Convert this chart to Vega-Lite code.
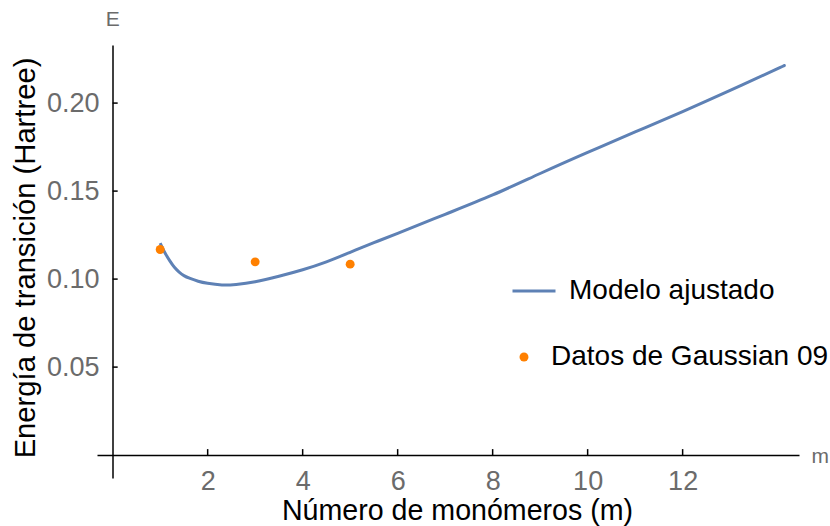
{
  "$schema": "https://vega.github.io/schema/vega-lite/v6.json",
  "width": 702,
  "height": 433,
  "autosize": {"type": "none"},
  "padding": {"left": 97, "top": 45, "right": 31, "bottom": 48},
  "background": "white",
  "config": {
    "view": {"stroke": null},
    "font": "Liberation Sans",
    "legend": {"padding": 0, "titleFontSize": 0, "labelLimit": 0}
  },
  "datasets": {
    "modelo": [
      {"m": 1.0, "E": 0.1205, "serie": "Modelo ajustado"},
      {"m": 1.1, "E": 0.1150, "serie": "Modelo ajustado"},
      {"m": 1.2, "E": 0.1105, "serie": "Modelo ajustado"},
      {"m": 1.3, "E": 0.1067, "serie": "Modelo ajustado"},
      {"m": 1.4, "E": 0.1040, "serie": "Modelo ajustado"},
      {"m": 1.5, "E": 0.1020, "serie": "Modelo ajustado"},
      {"m": 1.63, "E": 0.1004, "serie": "Modelo ajustado"},
      {"m": 1.8, "E": 0.0988, "serie": "Modelo ajustado"},
      {"m": 2.0, "E": 0.0976, "serie": "Modelo ajustado"},
      {"m": 2.3, "E": 0.0967, "serie": "Modelo ajustado"},
      {"m": 2.6, "E": 0.0970, "serie": "Modelo ajustado"},
      {"m": 3.0, "E": 0.0985, "serie": "Modelo ajustado"},
      {"m": 3.5, "E": 0.1016, "serie": "Modelo ajustado"},
      {"m": 4.0, "E": 0.1053, "serie": "Modelo ajustado"},
      {"m": 4.5, "E": 0.1098, "serie": "Modelo ajustado"},
      {"m": 5.0, "E": 0.1152, "serie": "Modelo ajustado"},
      {"m": 5.5, "E": 0.1207, "serie": "Modelo ajustado"},
      {"m": 6.0, "E": 0.1260, "serie": "Modelo ajustado"},
      {"m": 7.0, "E": 0.1368, "serie": "Modelo ajustado"},
      {"m": 8.0, "E": 0.1478, "serie": "Modelo ajustado"},
      {"m": 9.0, "E": 0.1600, "serie": "Modelo ajustado"},
      {"m": 10.0, "E": 0.1720, "serie": "Modelo ajustado"},
      {"m": 11.0, "E": 0.1836, "serie": "Modelo ajustado"},
      {"m": 12.0, "E": 0.1952, "serie": "Modelo ajustado"},
      {"m": 13.0, "E": 0.2072, "serie": "Modelo ajustado"},
      {"m": 14.0, "E": 0.2196, "serie": "Modelo ajustado"},
      {"m": 14.1, "E": 0.2208, "serie": "Modelo ajustado"}
    ],
    "datos": [
      {"m": 1, "E": 0.1168, "fuente": "Datos de Gaussian 09"},
      {"m": 3, "E": 0.1098, "fuente": "Datos de Gaussian 09"},
      {"m": 5, "E": 0.1085, "fuente": "Datos de Gaussian 09"}
    ],
    "marcasX": [{"m": 2}, {"m": 4}, {"m": 6}, {"m": 8}, {"m": 10}, {"m": 12}],
    "marcasY": [{"E": 0.05}, {"E": 0.1}, {"E": 0.15}, {"E": 0.2}],
    "etiquetas": [
      {"m": 0, "E": 0.247, "texto": "E"},
      {"m": 14.9, "E": -0.001, "texto": "m"}
    ]
  },
  "layer": [
    {
      "data": {"name": "modelo"},
      "mark": {"type": "line", "strokeWidth": 3, "interpolate": "natural"},
      "encoding": {
        "x": {
          "field": "m", "type": "quantitative",
          "scale": {"domain": [-0.33, 14.45], "nice": false, "zero": false},
          "axis": {
            "orient": "bottom",
            "title": "Número de monómeros (m)",
            "values": [2, 4, 6, 8, 10, 12],
            "offset": -23,
            "grid": false,
            "ticks": false,
            "domainColor": "black", "domainWidth": 1.5,
            "labelFontSize": 27, "labelColor": "#6b6b6b", "labelPadding": 13,
            "titleFontSize": 28.6, "titleColor": "black", "titleFontWeight": "normal",
            "titleX": 360, "titleY": 64, "titleBaseline": "alphabetic"
          }
        },
        "y": {
          "field": "E", "type": "quantitative",
          "scale": {"domain": [-0.013, 0.233], "nice": false, "zero": false},
          "axis": {
            "orient": "left",
            "title": "Energía de transición (Hartree)",
            "values": [0.05, 0.1, 0.15, 0.2],
            "format": ".2f",
            "offset": -15.5,
            "grid": false,
            "ticks": false,
            "domainColor": "black", "domainWidth": 1.5,
            "labelFontSize": 27, "labelColor": "#6b6b6b", "labelPadding": 13.5,
            "titleFontSize": 29.2, "titleColor": "black", "titleFontWeight": "normal",
            "titleX": -78.5, "titleY": 212.5, "titleBaseline": "alphabetic"
          }
        },
        "stroke": {
          "field": "serie", "type": "nominal",
          "scale": {"range": ["#5E81B5"]},
          "legend": {
            "title": null, "orient": "none", "legendX": 414, "legendY": 223,
            "symbolType": "stroke", "symbolSize": 1849, "symbolStrokeWidth": 3,
            "labelFontSize": 28, "labelColor": "black", "labelOffset": 12, "labelLimit": 0
          }
        }
      }
    },
    {
      "data": {"name": "marcasX"},
      "mark": {"type": "tick", "orient": "vertical", "size": 6, "thickness": 1.5, "color": "black", "yOffset": -3, "opacity": 1},
      "encoding": {
        "x": {"field": "m", "type": "quantitative"},
        "y": {"datum": 0, "type": "quantitative"}
      }
    },
    {
      "data": {"name": "marcasY"},
      "mark": {"type": "tick", "orient": "horizontal", "size": 5, "thickness": 1.5, "color": "black", "xOffset": 2.5, "opacity": 1},
      "encoding": {
        "y": {"field": "E", "type": "quantitative"},
        "x": {"datum": 0, "type": "quantitative"}
      }
    },
    {
      "data": {"name": "datos"},
      "mark": {"type": "circle", "size": 80, "opacity": 1},
      "encoding": {
        "x": {"field": "m", "type": "quantitative"},
        "y": {"field": "E", "type": "quantitative"},
        "fill": {
          "field": "fuente", "type": "nominal",
          "scale": {"range": ["#FF8000"]},
          "legend": {
            "title": null, "orient": "none", "legendX": 413, "legendY": 298,
            "symbolType": "circle", "symbolSize": 80,
            "labelFontSize": 28, "labelColor": "black", "labelOffset": 13, "labelLimit": 0
          }
        }
      }
    },
    {
      "data": {"name": "etiquetas"},
      "mark": {"type": "text", "fontSize": 21, "color": "#6b6b6b", "baseline": "middle", "align": "center", "clip": false},
      "encoding": {
        "x": {"field": "m", "type": "quantitative"},
        "y": {"field": "E", "type": "quantitative"},
        "text": {"field": "texto", "type": "nominal"}
      }
    }
  ]
}
